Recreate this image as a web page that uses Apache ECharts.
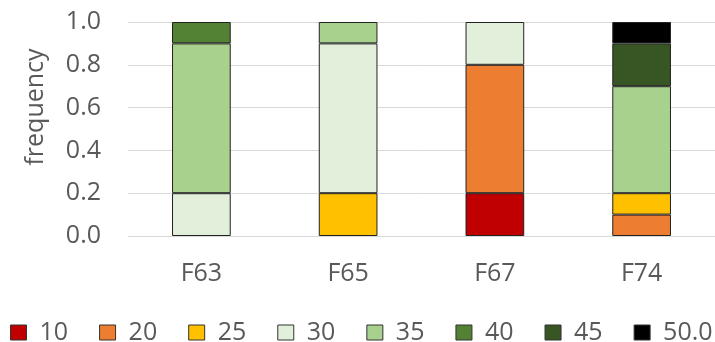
<!DOCTYPE html>
<html>
<head>
<meta charset="utf-8">
<script src="https://cdn.jsdelivr.net/npm/echarts@6/dist/echarts.min.js"></script>
<style>
  html, body { margin: 0; padding: 0; background: #fff; }
  #chart { width: 715px; height: 342px; }
</style>
</head>
<body>
<div id="chart"></div>
<script>
const categories = ['F63', 'F65', 'F67', 'F74']
const seriesNames = ['10', '20', '25', '30', '35', '40', '45', '50.0']
const v10 = [0, 0, 0.2, 0]
const v20 = [0, 0, 0.6, 0.1]
const v25 = [0, 0.2, 0, 0.1]
const v30 = [0.2, 0.7, 0.2, 0]
const v35 = [0.7, 0.1, 0, 0.5]
const v40 = [0.1, 0, 0, 0]
const v45 = [0, 0, 0, 0.2]
const v50 = [0, 0, 0, 0.1]
const yTicks = [0, 0.2, 0.4, 0.6, 0.8, 1.0]

const values = [v10, v20, v25, v30, v35, v40, v45, v50]
const colors = ['#C00000', '#ED7D31', '#FFC000', '#E2EFDA', '#A9D18E', '#548235', '#375623', '#000000']
const font = '"Open Sans", sans-serif'

const chart = echarts.init(document.getElementById('chart'))

const series = seriesNames.map((name, i) => ({
  name: name,
  type: 'bar',
  stack: 'total',
  barWidth: '40%',
  // empty segments are skipped so they don't leave a border line
  data: values[i].map(v => (v === 0 ? '-' : v)),
  itemStyle: { color: colors[i], borderColor: '#222', borderWidth: 1 }
}))

chart.setOption({
  backgroundColor: '#fff',
  animation: false,
  textStyle: { fontFamily: font },
  grid: { left: 128, top: 22, width: 594, bottom: 106 },
  legend: {
    data: seriesNames,
    left: 10,
    top: 320,
    width: 760,
    padding: 0,
    itemWidth: 16,
    itemHeight: 15,
    itemGap: 31,
    icon: 'rect',
    itemStyle: { borderColor: '#333', borderWidth: 1 },
    textStyle: { color: '#595959', fontSize: 25, fontFamily: font, padding: [0, 0, 0, 8] }
  },
  xAxis: {
    type: 'category',
    data: categories,
    axisLine: { lineStyle: { color: '#D9D9D9' } },
    axisTick: { show: false },
    axisLabel: { color: '#595959', fontSize: 25, margin: 25, fontFamily: font }
  },
  yAxis: {
    type: 'value',
    min: yTicks[0],
    max: yTicks[yTicks.length - 1],
    interval: 0.2,
    name: 'frequency',
    nameLocation: 'middle',
    nameGap: 80,
    nameTextStyle: { color: '#595959', fontSize: 25, fontFamily: font, padding: [0, 0, 0, 44] },
    axisLine: { show: false },
    axisTick: { show: false },
    splitLine: { lineStyle: { color: '#D9D9D9' } },
    axisLabel: {
      color: '#595959',
      fontSize: 25,
      margin: 27,
      fontFamily: font,
      formatter: v => v.toFixed(1)
    }
  },
  series: series
})
</script>
</body>
</html>
